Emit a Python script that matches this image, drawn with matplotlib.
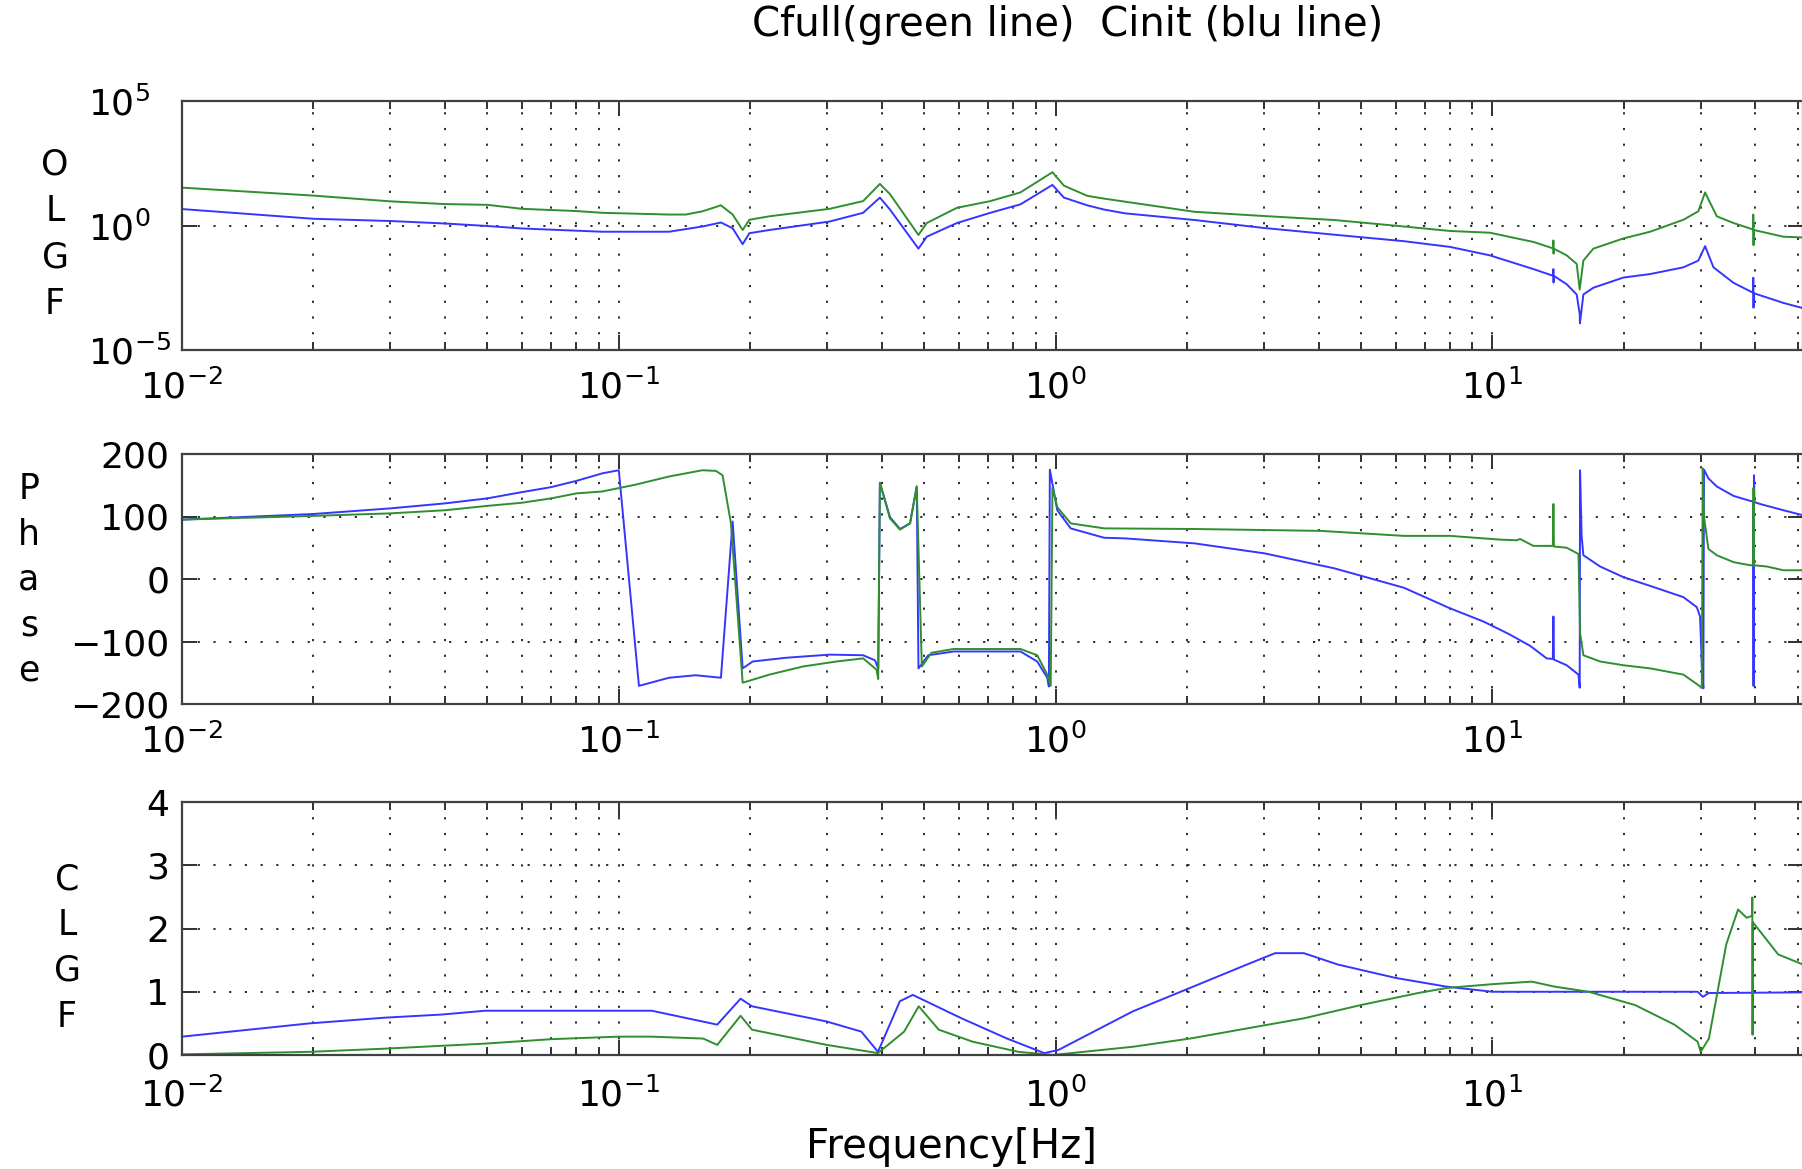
import matplotlib.pyplot as plt
import numpy as np
from matplotlib.ticker import FixedLocator, LogLocator, NullLocator, NullFormatter

plt.rcParams['font.family'] = ['DejaVu Sans']
plt.rcParams['mathtext.fontset'] = 'dejavusans'

GREEN = '#2f8f2f'
BLUE = '#3535ff'

# Open loop gain magnitude, stored as decades (log10 of |G|).
olgf_full_freq = [0.01, 0.02, 0.03, 0.04, 0.05, 0.06, 0.08, 0.0916, 0.1303, 0.1423, 0.1554,
                  0.1713, 0.1822, 0.1921, 0.199, 0.2212, 0.3039, 0.3625, 0.396, 0.4176,
                  0.4853, 0.5069, 0.5943, 0.7088, 0.8309, 0.9833, 1.0447, 1.182, 1.291,
                  2.08, 3.0, 4.35, 6.27, 8.0, 9.87, 11.37, 12.41, 13.77, 13.79, 13.8, 13.82,
                  14.79, 15.59, 15.84, 16.15, 17.02, 19.94, 22.96, 27.36, 29.6, 30.68,
                  31.22, 32.63, 35.62, 39.5, 39.55, 39.6, 39.65, 46.37, 51.4]
olgf_full_dec = [1.52, 1.2, 0.97, 0.86, 0.83, 0.67, 0.58, 0.51, 0.44, 0.44, 0.57,
                 0.81, 0.44, -0.18, 0.23, 0.37, 0.67, 0.98, 1.67, 1.26,
                 -0.38, 0.1, 0.71, 0.98, 1.33, 2.14, 1.6, 1.19, 1.08,
                 0.55, 0.38, 0.22, -0.04, -0.22, -0.29, -0.52, -0.66, -0.92, -0.6, -1.13, -0.93,
                 -1.2, -1.54, -2.57, -1.41, -0.93, -0.52, -0.25, 0.23, 0.57, 1.33,
                 1.05, 0.37, 0.1, -0.16, 0.44, -0.79, -0.18, -0.45, -0.48]

olgf_init_freq = [0.01, 0.02, 0.03, 0.04, 0.05, 0.06, 0.0916, 0.1303, 0.1554, 0.1713,
                  0.1822, 0.1921, 0.199, 0.2212, 0.3039, 0.3625, 0.396, 0.4176, 0.4853,
                  0.5069, 0.5943, 0.7088, 0.8309, 0.9833, 1.0447, 1.182, 1.291, 1.44,
                  2.08, 3.0, 4.35, 6.27, 8.0, 9.87, 11.37, 12.41, 13.77, 13.79, 13.8, 13.82,
                  14.79, 15.59, 15.84, 15.86, 16.15, 17.02, 19.94, 22.96, 27.36, 29.6, 30.68,
                  32.06, 35.62, 39.5, 39.55, 39.6, 39.65, 46.37, 51.4]
olgf_init_dec = [0.66, 0.27, 0.18, 0.08, -0.02, -0.12, -0.25, -0.25, -0.04, 0.12,
                 -0.11, -0.75, -0.31, -0.18, 0.16, 0.51, 1.12, 0.64, -0.93,
                 -0.45, 0.1, 0.51, 0.85, 1.63, 1.12, 0.81, 0.64, 0.49,
                 0.22, -0.1, -0.37, -0.63, -0.86, -1.2, -1.54, -1.75, -2.02, -1.75, -2.29, -2.02,
                 -2.36, -2.77, -3.55, -3.93, -2.77, -2.5, -2.09, -1.95, -1.68, -1.41, -0.83,
                 -1.68, -2.3, -2.7, -2.1, -3.3, -2.72, -3.11, -3.32]

# Open loop phase in degrees.
phase_full_freq = [0.01, 0.02, 0.03, 0.04, 0.05, 0.06, 0.07, 0.08, 0.0916, 0.1093, 0.1303,
                   0.1554, 0.1668, 0.1728, 0.1806, 0.1921, 0.2212, 0.2639, 0.3149, 0.3625,
                   0.389, 0.3925, 0.396, 0.4176, 0.4402, 0.4642, 0.4809, 0.494, 0.5195,
                   0.5838, 0.8309, 0.9076, 0.9568, 0.9745, 0.9833, 1.0088, 1.0826, 1.291,
                   2.08, 4.04, 6.27, 8.0, 10.41, 11.37, 11.57, 12.41, 13.75, 13.79, 13.83,
                   14.79, 15.74, 15.87, 16.15, 17.64, 19.94, 22.96, 27.36, 29.36, 30.15,
                   30.3, 30.5, 31.22, 32.63, 35.62, 38.9, 39.55, 39.6, 39.65, 42.46, 46.37, 51.4]
phase_full_deg = [95, 101, 105, 110, 117, 122, 129, 137, 140, 151, 164,
                  174, 173, 166, 89, -166, -153, -140, -132, -127,
                  -145, -160, 154, 97, 79, 89, 148, -140, -118,
                  -112, -112, -122, -153, -171, 146, 115, 89, 81,
                  80, 77, 69, 69, 63, 62, 64, 53, 53, 120, 52,
                  50, 40, -86, -122, -132, -138, -143, -153, -168, -174,
                  177, 100, 48, 38, 27, 22, 22, 146, 22, 20, 14, 14]

phase_init_freq = [0.01, 0.02, 0.03, 0.04, 0.05, 0.06, 0.07, 0.08, 0.0916, 0.1, 0.1112,
                   0.1303, 0.15, 0.1713, 0.1822, 0.1921, 0.2025, 0.2416, 0.3039, 0.3625,
                   0.3857, 0.3925, 0.396, 0.4176, 0.4402, 0.4642, 0.4809, 0.4853, 0.511,
                   0.5838, 0.8309, 0.9076, 0.9568, 0.965, 0.97, 1.0088, 1.0826, 1.291,
                   1.44, 2.08, 3.01, 4.35, 6.27, 8.0, 9.535, 10.9, 12.2, 13.31, 13.75,
                   13.79, 13.83, 14.79, 15.74, 15.84, 15.87, 16.0, 16.15, 17.64, 19.94,
                   22.96, 27.36, 29.36, 29.88, 30.15, 30.4, 30.5, 31.22, 32.63, 35.62,
                   38.9, 39.5, 39.6, 39.7, 39.8, 41.0, 46.37, 51.4]
phase_init_deg = [95, 104, 113, 121, 129, 139, 147, 157, 169, 174, -171,
                  -158, -154, -158, 92, -143, -132, -126, -121, -122,
                  -130, -143, 154, 99, 80, 89, 148, -143, -122,
                  -116, -116, -132, -158, -172, 175, 110, 81, 66,
                  65, 57, 41, 17, -14, -47, -68, -88, -107, -127, -128,
                  -60, -129, -138, -153, -174, 174, 69, 38, 20, 3,
                  -11, -29, -45, -60, -138, -175, 175, 161, 148, 133,
                  125, 124, -171, 166, 123, 120, 110, 102]

# Closed loop gain (linear).
clgf_full_freq = [0.01, 0.0196, 0.0291, 0.0494, 0.07, 0.0995, 0.119, 0.156, 0.168, 0.19,
                  0.2018, 0.299, 0.392, 0.45, 0.486, 0.54, 0.646, 0.822, 0.985, 1.502,
                  2.03, 2.74, 3.7, 5.0, 6.76, 7.86, 10.0, 12.3, 13.9, 16.6, 21.2, 26.1,
                  29.5, 29.97, 31.3, 34.3, 36.5, 38.2, 39.3, 39.35, 39.4, 39.45, 40.5,
                  45.1, 51.4]
clgf_full_val = [0.01, 0.05, 0.1, 0.18, 0.25, 0.29, 0.29, 0.26, 0.16, 0.62,
                 0.4, 0.16, 0.03, 0.37, 0.77, 0.4, 0.21, 0.05, 0.0, 0.13,
                 0.26, 0.42, 0.58, 0.79, 0.98, 1.06, 1.12, 1.16, 1.08, 1.0, 0.79, 0.48,
                 0.21, 0.05, 0.26, 1.75, 2.3, 2.17, 2.2, 2.49, 0.32, 2.1, 2.0,
                 1.59, 1.43]

clgf_init_freq = [0.01, 0.0196, 0.0291, 0.0394, 0.0494, 0.0995, 0.119, 0.168, 0.19, 0.2018,
                  0.299, 0.359, 0.392, 0.44, 0.471, 0.609, 0.774, 0.942, 1.015, 1.502,
                  2.03, 2.74, 3.18, 3.7, 4.43, 5.99, 7.86, 10.0, 16.6, 29.5, 30.3, 31.3, 51.4]
clgf_init_val = [0.29, 0.5, 0.59, 0.64, 0.7, 0.7, 0.7, 0.48, 0.89, 0.77,
                 0.53, 0.37, 0.05, 0.85, 0.95, 0.58, 0.26, 0.03, 0.08, 0.69,
                 1.06, 1.43, 1.61, 1.61, 1.43, 1.22, 1.08, 1.0, 1.0, 1.0, 0.92, 0.98, 0.99]

W, H = 1802, 1169
F_MIN, F_MAX = 0.01, 51.4
GRID_STYLE = dict(linestyle=(0, (1.2, 7.5)), color='#1a1a1a', linewidth=1.3)
LINE_W = 1.4

fig = plt.figure(figsize=(W / 100, H / 100), dpi=100)


def px_axes(x0, y0, x1, y1):
    # Axes box given in pixel corners (top-left origin).
    return fig.add_axes([x0 / W, 1 - y1 / H, (x1 - x0) / W, (y1 - y0) / H])


def style_axes(ax):
    ax.set_xscale('log')
    ax.set_xlim(F_MIN, F_MAX)
    ax.xaxis.set_major_locator(LogLocator(base=10, numticks=10))
    ax.xaxis.set_minor_locator(LogLocator(base=10, subs=np.arange(2, 10), numticks=30))
    ax.xaxis.set_minor_formatter(NullFormatter())
    ax.tick_params(which='both', direction='in', top=True, right=True,
                   width=1.4, color='#303030', labelsize=26)
    ax.tick_params(which='major', length=11)
    ax.tick_params(which='minor', length=6)
    ax.grid(True, which='both', axis='x', **GRID_STYLE)
    ax.grid(True, which='major', axis='y', **GRID_STYLE)
    for spine in ax.spines.values():
        spine.set_linewidth(1.6)
        spine.set_color('#404040')


def plot_olgf(ax):
    ax.semilogy(olgf_init_freq, 10 ** np.array(olgf_init_dec), color=BLUE, lw=LINE_W)
    ax.semilogy(olgf_full_freq, 10 ** np.array(olgf_full_dec), color=GREEN, lw=LINE_W)
    style_axes(ax)
    ax.set_ylim(1e-5, 1e5)
    ax.yaxis.set_major_locator(FixedLocator([1e-5, 1e0, 1e5]))
    ax.yaxis.set_minor_locator(NullLocator())
    ax.tick_params(axis='x', which='major', pad=14)
    # Decade labels start at a common left edge, exponents hang to the right.
    ax.tick_params(axis='y', which='major', pad=68)
    for lab in ax.get_yticklabels():
        lab.set_horizontalalignment('left')


def plot_phase(ax):
    ax.plot(phase_init_freq, phase_init_deg, color=BLUE, lw=LINE_W)
    ax.plot(phase_full_freq, phase_full_deg, color=GREEN, lw=LINE_W)
    style_axes(ax)
    ax.set_ylim(-200, 200)
    ax.set_yticks([-200, -100, 0, 100, 200])
    ax.tick_params(axis='x', which='major', pad=14)
    ax.tick_params(axis='y', which='major', pad=9)


def plot_clgf(ax):
    ax.plot(clgf_init_freq, clgf_init_val, color=BLUE, lw=LINE_W)
    ax.plot(clgf_full_freq, clgf_full_val, color=GREEN, lw=LINE_W)
    style_axes(ax)
    ax.set_ylim(0, 4)
    ax.set_yticks([0, 1, 2, 3, 4])
    ax.tick_params(axis='x', which='major', pad=16)
    ax.tick_params(axis='y', which='major', pad=9)


plot_olgf(px_axes(182, 101, 1803, 350))
plot_phase(px_axes(182, 454, 1803, 704))
plot_clgf(px_axes(182, 802, 1803, 1055))

# Stacked vertical labels, one letter per line.
fig.text(55 / W, 1 - 234 / H, 'O\nL\nG\nF', ha='center', va='center', fontsize=25, linespacing=1.46)
fig.text(29 / W, 1 - 580 / H, 'P\nh\na\ns\ne', ha='center', va='center', fontsize=25, linespacing=1.42)
fig.text(67 / W, 1 - 948 / H, 'C\nL\nG\nF', ha='center', va='center', fontsize=25, linespacing=1.44)

fig.text(1068 / W, 1 - 25 / H, 'Cfull(green line)  Cinit (blu line)', ha='center', va='center', fontsize=29)
fig.text(951 / W, 1 - 1147 / H, 'Frequency[Hz]', ha='center', va='center', fontsize=29)

fig.savefig('out.png', dpi=100)
